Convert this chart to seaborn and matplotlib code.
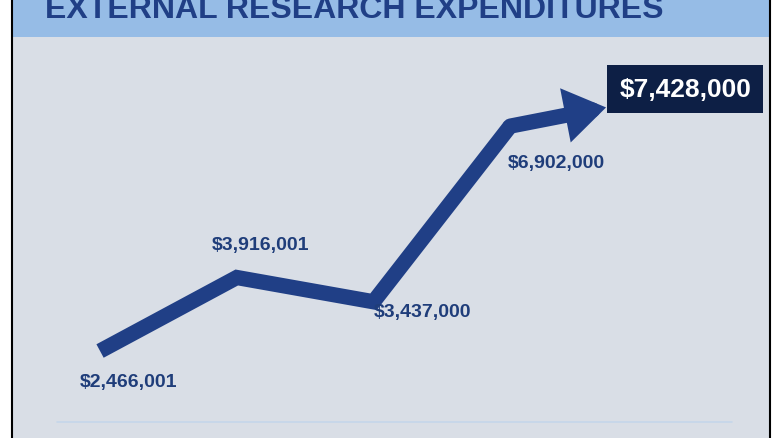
import numpy as np
import matplotlib.pyplot as plt
import seaborn as sns
import pandas as pd

# values
points = [0, 1, 2, 3, 4]
values = [2466001, 3916001, 3437000, 6902000, 7428000]
labels = ["$2,466,001", "$3,916,001", "$3,437,000", "$6,902,000", "$7,428,000"]

navy = "#203f86"
text_blue = "#1f3d7a"
sns.set_theme(style="white", font="Liberation Sans")

fig = plt.figure(figsize=(7.8, 4.39), dpi=100)
fig.patch.set_facecolor("white")
W, H = 780, 439
ax = fig.add_axes([12 / W, 0, 758 / W, 1 - 38 / H])
ax.set_facecolor("#d9dee6")

df = pd.DataFrame({"x": points[:4], "y": [v / 1e6 for v in values[:4]]})
sns.lineplot(data=df, x="x", y="y", ax=ax, color=navy, lw=11,
             solid_joinstyle="miter", solid_capstyle="butt")
ax.annotate("", xy=(points[4], values[4] / 1e6), xytext=(points[3], values[3] / 1e6),
            arrowprops=dict(arrowstyle="-|>,head_length=1.2,head_width=0.8", lw=11,
                            color=navy, shrinkA=0, shrinkB=30, joinstyle="miter"))

ax.set_xlim(-0.644, 4.90)
ax.set_ylim(0.75, 8.66)
ax.axhline(1.06, color="#c5d6ea", lw=1.2, xmin=0.06, xmax=0.95)

fs = 14
kw = dict(color=text_blue, fontsize=fs, fontweight="bold", family="Liberation Sans")
ax.text(points[0] - 0.15, values[0] / 1e6 - 0.6, labels[0], ha="left", va="center", **kw)
ax.text(points[1] - 0.18, values[1] / 1e6 + 0.65, labels[1], ha="left", va="center", **kw)
ax.text(points[2] + 0.0, values[2] / 1e6 - 0.2, labels[2], ha="left", va="center", **kw)
ax.text(points[3] - 0.02, values[3] / 1e6 - 0.72, labels[3], ha="left", va="center", **kw)
ax.text(points[4] + 0.28, values[4] / 1e6 + 0.2, labels[4], ha="center", va="center",
        color="white", fontsize=19, fontweight="bold",
        bbox=dict(boxstyle="square,pad=0.45", fc="#0d1f45", ec="none"))

ax.set_xticks([])
ax.set_yticks([])
ax.set_xlabel("")
ax.set_ylabel("")
for s in ax.spines.values():
    s.set_visible(False)

# title band
fig.patches.append(plt.Rectangle((12 / W, 1 - 38 / H), 758 / W, 38 / H,
                                 transform=fig.transFigure, fc="#96bce6", ec="none"))
fig.text(45 / W, 1 - 10 / H, "EXTERNAL RESEARCH EXPENDITURES", color=navy,
         fontsize=23, fontweight="bold", family="Liberation Sans",
         ha="left", va="center")
for xb in (12, 770):
    fig.add_artist(plt.Line2D([xb / W, xb / W], [0, 1], color="black", lw=1.5,
                              transform=fig.transFigure))

fig.savefig("out.png", dpi=100)
